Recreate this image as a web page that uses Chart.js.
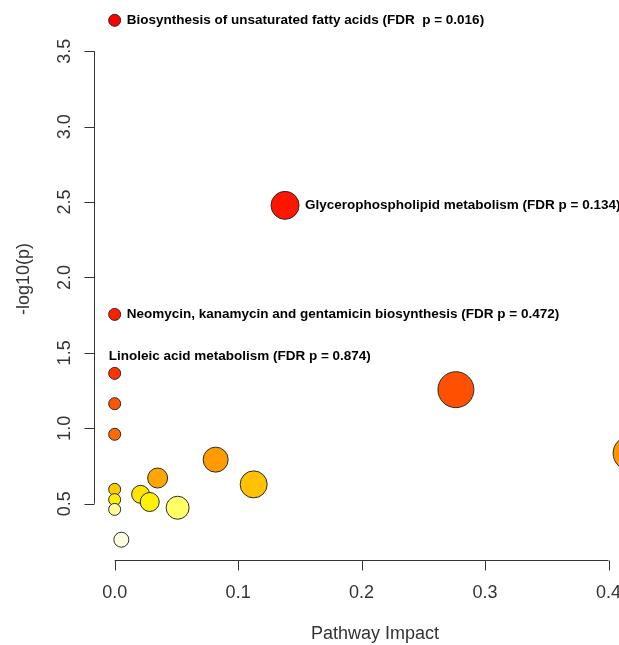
<!DOCTYPE html>
<html>
<head>
<meta charset="utf-8">
<script src="https://cdn.jsdelivr.net/npm/chart.js@4/dist/chart.umd.min.js"></script>
<style>
    html, body { margin: 0; padding: 0; background: #fff; }
    #wrap { width: 619px; height: 645px; }
</style>
</head>
<body>
<div id="wrap"><canvas id="grafico" width="619" height="645"></canvas></div>
<script>
// pathway impact (x) vs -log10(p) (y)
const impacto = [0, 0.138, 0, 0, 0, 0, 0, 0, 0, 0.0054, 0.021, 0.0284, 0.0348, 0.051, 0.0818, 0.1126, 0.2764, 0.4175];
const logP = [3.705, 2.478, 1.755, 1.364, 1.163, 0.960, 0.595, 0.527, 0.462, 0.261, 0.562, 0.511, 0.670, 0.473, 0.792, 0.628, 1.256, 0.834];
const tamanho = [6, 14, 6, 6, 6, 6, 6, 6, 6, 7.5, 9, 9.5, 10, 11.5, 12.5, 13.5, 18, 17];
const cores = [
    '#FF0000', '#FF1500', '#FF2000', '#FF3300', '#FF5500', '#FF6A00',
    '#FFCC00', '#FFEE00', '#FFFF99', '#FFFFE0', '#FFE400', '#FFF200',
    '#FFA500', '#FFFF66', '#FF9A00', '#FFC100', '#FF5000', '#FF9500'
];
const rotulos = [
    'Biosynthesis of unsaturated fatty acids (FDR  p = 0.016)',
    'Glycerophospholipid metabolism (FDR p = 0.134)',
    'Neomycin, kanamycin and gentamicin biosynthesis (FDR p = 0.472)',
    'Linoleic acid metabolism (FDR p = 0.874)'
];
const rotuloPonto = [0, 1, 2, 3];
const xTicks = [0, 0.1, 0.2, 0.3, 0.4];
const yTicks = [0.5, 1.0, 1.5, 2.0, 2.5, 3.0, 3.5];

// label placement: 'right' of the point, or 'above' it
const rotuloPos = ['right', 'right', 'right', 'above'];

const eixosR = {
    id: 'eixosR',
    afterDraw(chart) {
        const ctx = chart.ctx;
        const sx = chart.scales.x;
        const sy = chart.scales.y;
        ctx.save();
        ctx.strokeStyle = '#333';
        ctx.lineWidth = 1;
        ctx.fillStyle = '#333';

        // x axis
        const yEixo = 560.5;
        ctx.beginPath();
        ctx.moveTo(sx.getPixelForValue(xTicks[0]), yEixo);
        ctx.lineTo(sx.getPixelForValue(xTicks[xTicks.length - 1]), yEixo);
        xTicks.forEach(v => {
            const px = Math.round(sx.getPixelForValue(v)) + 0.5;
            ctx.moveTo(px, yEixo);
            ctx.lineTo(px, yEixo + 10);
        });
        ctx.stroke();
        ctx.font = '18px "Liberation Sans", Arial, sans-serif';
        ctx.textAlign = 'center';
        ctx.textBaseline = 'middle';
        xTicks.forEach(v => {
            ctx.fillText(v.toFixed(1), sx.getPixelForValue(v), 593);
        });

        // y axis
        const xEixo = 94.5;
        ctx.beginPath();
        ctx.moveTo(xEixo, sy.getPixelForValue(yTicks[0]));
        ctx.lineTo(xEixo, sy.getPixelForValue(yTicks[yTicks.length - 1]));
        yTicks.forEach(v => {
            const py = Math.round(sy.getPixelForValue(v)) + 0.5;
            ctx.moveTo(xEixo, py);
            ctx.lineTo(xEixo - 10, py);
        });
        ctx.stroke();
        yTicks.forEach(v => {
            ctx.save();
            ctx.translate(65, sy.getPixelForValue(v));
            ctx.rotate(-Math.PI / 2);
            ctx.fillText(v.toFixed(1), 0, 0);
            ctx.restore();
        });

        // axis titles
        ctx.fillText('Pathway Impact', 375, 634);
        ctx.save();
        ctx.translate(24, 279);
        ctx.rotate(-Math.PI / 2);
        ctx.fillText('-log10(p)', 0, 0);
        ctx.restore();

        // point labels
        ctx.fillStyle = '#000';
        ctx.font = 'bold 13.5px "Liberation Sans", Arial, sans-serif';
        ctx.textAlign = 'left';
        const meta = chart.getDatasetMeta(0);
        rotuloPonto.forEach((idx, i) => {
            const pt = meta.data[idx];
            if (rotuloPos[i] === 'right') {
                ctx.fillText(rotulos[i], pt.x + tamanho[idx] + 6, pt.y);
            } else {
                ctx.fillText(rotulos[i], pt.x - 6, pt.y - 17);
            }
        });
        ctx.restore();
    }
};

const pontos = impacto.map((v, i) => ({ x: v, y: logP[i] }));

new Chart(document.getElementById('grafico'), {
    type: 'scatter',
    data: {
        datasets: [{
            data: pontos,
            pointRadius: tamanho,
            pointHoverRadius: tamanho,
            backgroundColor: cores,
            borderColor: '#2a2a2a',
            borderWidth: 1,
            clip: false
        }]
    },
    options: {
        responsive: false,
        animation: false,
        events: [],
        layout: { autoPadding: false, padding: { left: 98, right: 0, top: 6, bottom: 81 } },
        scales: {
            x: { type: 'linear', min: -0.0135, max: 0.4085, display: false },
            y: { type: 'linear', min: 0.1, max: 3.8, display: false }
        },
        plugins: {
            legend: { display: false },
            tooltip: { enabled: false }
        }
    },
    plugins: [eixosR]
});
</script>
</body>
</html>
